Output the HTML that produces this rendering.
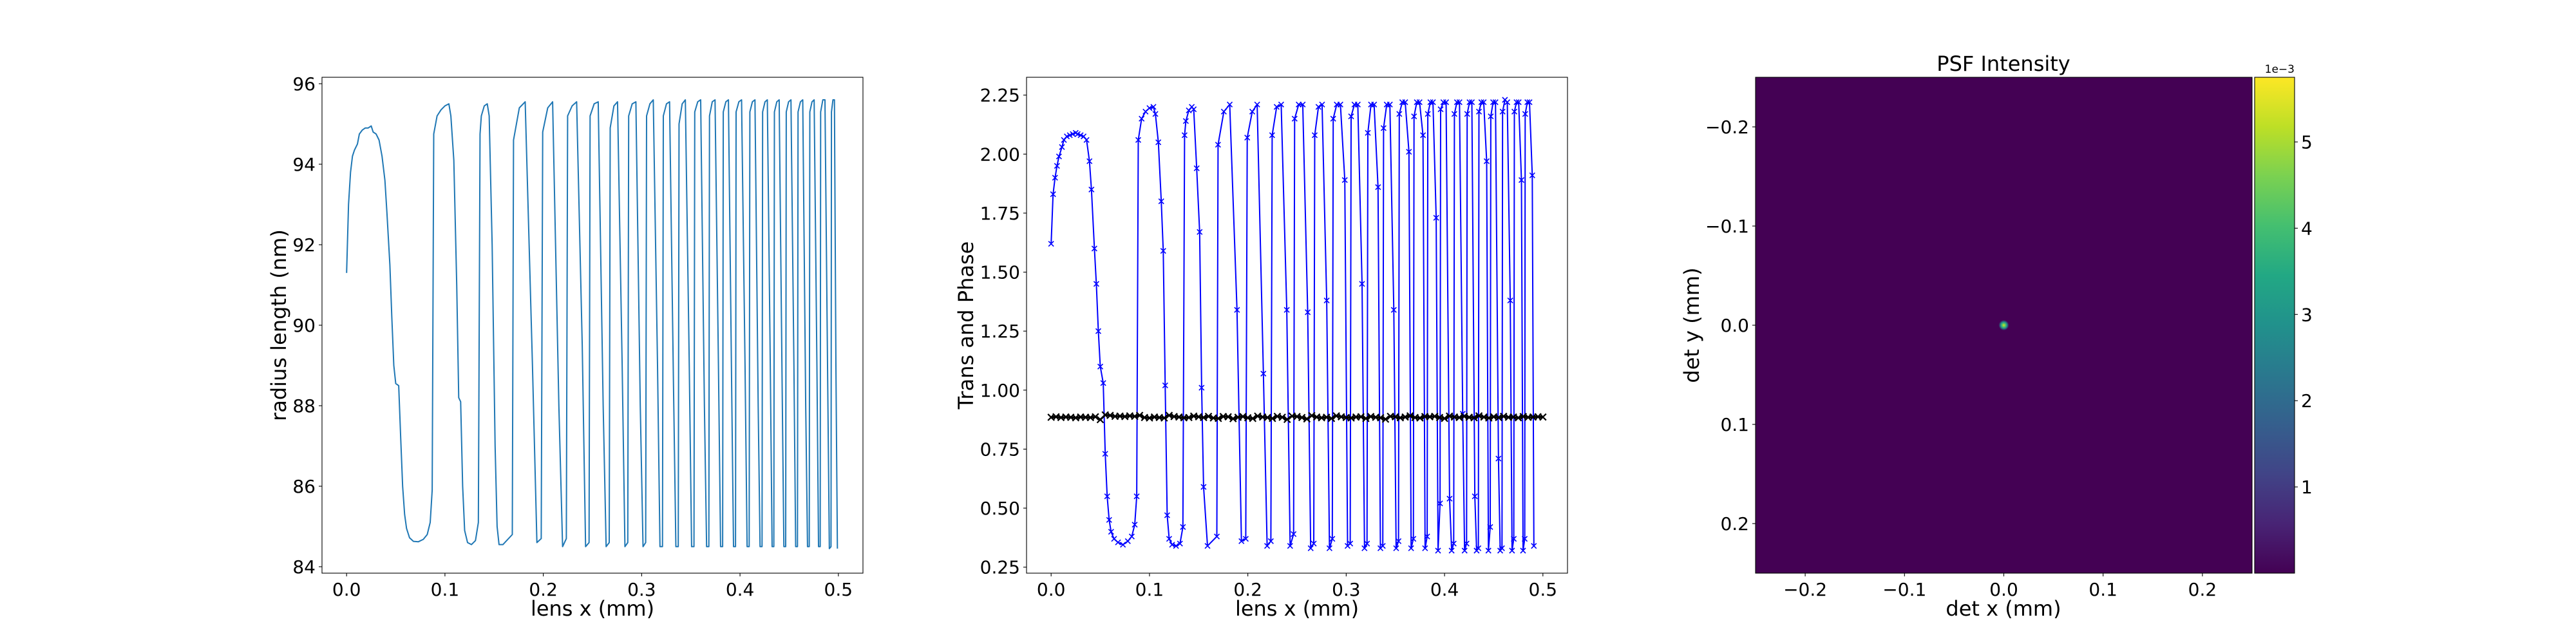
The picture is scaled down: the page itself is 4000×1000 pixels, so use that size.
<!DOCTYPE html>
<html><head><meta charset="utf-8">
<style>
html,body{margin:0;padding:0;background:#fff;}
svg{display:block;font-family:"DejaVu Sans","Liberation Sans",sans-serif;}
</style></head>
<body>
<svg id="fig" width="4000" height="1000" viewBox="0 0 4000 1000" xmlns="http://www.w3.org/2000/svg">
<defs>
<linearGradient id="viridis" x1="0" y1="1" x2="0" y2="0">
<stop offset="0" stop-color="#440154"/><stop offset="0.1" stop-color="#482475"/><stop offset="0.2" stop-color="#414487"/><stop offset="0.3" stop-color="#355f8d"/><stop offset="0.4" stop-color="#2a788e"/><stop offset="0.5" stop-color="#21918c"/><stop offset="0.6" stop-color="#22a884"/><stop offset="0.7" stop-color="#44bf70"/><stop offset="0.8" stop-color="#7ad151"/><stop offset="0.9" stop-color="#bddf26"/><stop offset="1" stop-color="#fde725"/>
</linearGradient>
<radialGradient id="spot">
<stop offset="0" stop-color="#d8e219"/><stop offset="0.3" stop-color="#5ec962"/><stop offset="0.6" stop-color="#21918c"/><stop offset="1" stop-color="#440154"/>
</radialGradient>
<clipPath id="clip1"><rect x="500" y="120" width="840" height="770"/></clipPath>
<clipPath id="clip2"><rect x="1594" y="120" width="840" height="770"/></clipPath>
</defs>
<g id="layer"></g>
</svg>
<script>
// ---- data ----
const lensX = [0,0.002,0.004,0.006,0.008,0.011,0.013,0.016,0.019,0.022,0.025,0.027,0.030,0.033,0.036,0.039,0.041,0.044,0.046,0.048,0.050,0.053,0.055,0.057,0.059,0.061,0.064,0.068,0.073,0.078,0.082,0.085,0.087,
0.0886,0.092,0.096,0.100,0.104,0.106,0.109,0.112,0.114,0.116,0.118,0.120,0.123,0.127,0.131,0.134,
0.1357,0.137,0.140,0.143,0.145,0.148,0.151,0.153,0.155,0.159,0.1685,
0.1697,0.1756,0.1816,0.1890,0.1935,0.1979,
0.1994,0.2045,0.2095,0.2158,0.2196,0.2234,
0.2247,0.2293,0.2339,0.2396,0.2430,0.2465,
0.2476,0.2517,0.2558,0.2609,0.2639,0.2670,
0.268,0.2718,0.2755,0.2802,0.2830,0.2859,
0.2868,0.2904,0.2941,0.2986,0.3014,0.3041,
0.305,0.3084,0.3118,0.3161,0.3186,0.3212,
0.322,0.3252,0.3284,0.3324,0.3348,0.3372,
0.338,0.3412,0.3444,0.3484,0.3508,0.3532,
0.354,0.357,0.360,0.3638,0.366,0.3683,
0.369,0.3718,0.3746,0.3781,0.3802,0.3823,
0.383,0.3856,0.3882,0.3915,0.3934,0.3954,
0.396,0.3988,0.4016,0.4051,0.4072,0.4093,
0.410,0.4126,0.4152,0.4185,0.4204,0.4224,
0.423,0.4254,0.4278,0.4308,0.4326,0.4344,
0.435,0.4374,0.4398,0.4428,0.4446,0.4464,
0.447,0.4494,0.4518,0.4548,0.4566,0.4584,
0.459,0.4614,0.4638,0.4668,0.4686,0.4704,
0.471,0.4732,0.4754,0.4782,0.4798,0.4815,
0.482,0.4842,0.4864,0.4892,0.4908,0.4925,
0.493,0.4945,0.496,0.4975,0.499];
const radiusNm = [91.3,93.0,93.8,94.2,94.35,94.5,94.75,94.85,94.9,94.9,94.95,94.8,94.75,94.6,94.2,93.6,92.8,91.5,90.2,89.0,88.55,88.5,87.2,86.0,85.3,84.95,84.72,84.63,84.62,84.68,84.8,85.1,85.9,
94.75,95.2,95.35,95.45,95.5,95.2,94.1,91.0,88.2,88.1,86.0,84.9,84.6,84.55,84.65,85.1,
94.75,95.2,95.45,95.5,95.2,92.0,87.0,85.0,84.55,84.55,84.8,
94.6,95.4,95.55,89.0,84.6,84.7,
94.8,95.4,95.55,88.0,84.5,84.7,
95.2,95.45,95.55,89.5,84.5,84.6,
95.2,95.5,95.55,88.0,84.5,84.6,
94.9,95.45,95.55,89.0,84.5,84.6,
95.2,95.5,95.55,88.0,84.5,84.6,
95.2,95.5,95.6,89.0,84.5,84.5,
95.2,95.5,95.55,88.5,84.5,84.5,
95.0,95.5,95.6,89.0,84.5,84.5,
95.3,95.55,95.6,88.0,84.5,84.5,
95.2,95.55,95.6,89.0,84.5,84.5,
95.3,95.55,95.6,88.5,84.5,84.5,
95.3,95.55,95.6,89.0,84.5,84.5,
95.3,95.55,95.6,88.0,84.5,84.5,
95.3,95.55,95.6,89.0,84.5,84.5,
95.3,95.55,95.6,88.5,84.5,84.5,
95.3,95.55,95.6,89.0,84.5,84.5,
95.3,95.55,95.6,88.0,84.5,84.5,
95.3,95.55,95.6,89.0,84.5,84.5,
95.3,95.6,95.6,88.5,84.45,84.5,
95.3,95.6,95.6,89.0,84.45,84.5,
95.3,95.6,95.5,90.0,84.5];
const transBlue = [1.62,1.83,1.90,1.95,1.99,2.03,2.06,2.075,2.08,2.085,2.09,2.085,2.08,2.075,2.06,1.97,1.85,1.6,1.45,1.25,1.1,1.03,0.73,0.55,0.45,0.40,0.37,0.355,0.345,0.36,0.38,0.43,0.55,
2.06,2.15,2.18,2.195,2.20,2.17,2.05,1.80,1.59,1.02,0.47,0.37,0.345,0.34,0.35,0.42,
2.08,2.14,2.185,2.20,2.19,1.94,1.67,1.01,0.59,0.34,0.38,
2.04,2.18,2.21,1.34,0.36,0.37,
2.07,2.18,2.21,1.07,0.34,0.36,
2.08,2.20,2.21,1.34,0.34,0.39,
2.15,2.21,2.21,1.33,0.33,0.35,
2.08,2.20,2.21,1.38,0.33,0.37,
2.15,2.21,2.21,1.89,0.34,0.35,
2.16,2.21,2.21,1.45,0.33,0.35,
2.09,2.21,2.21,1.86,0.33,0.34,
2.11,2.21,2.21,1.34,0.33,0.36,
2.17,2.22,2.22,2.01,0.33,0.37,
2.16,2.22,2.22,2.08,0.33,0.38,
2.17,2.22,2.22,1.73,0.32,0.52,
2.19,2.22,2.22,0.54,0.32,0.35,
2.17,2.22,2.22,0.90,0.32,0.35,
2.17,2.22,2.22,0.55,0.32,0.33,
2.18,2.22,2.22,1.97,0.32,0.42,
2.16,2.22,2.22,0.71,0.32,0.33,
2.18,2.23,2.22,1.38,0.32,0.37,
2.18,2.22,2.22,1.89,0.32,0.37,
2.17,2.22,2.22,1.91,0.34];
const phaseStep = 0.005;
const phaseBlack = [0.885,0.887,0.884,0.886,0.885,0.883,0.886,0.885,0.884,0.887,0.875,0.895,0.893,0.889,0.890,0.888,0.891,0.889,0.893,0.884,
0.882,0.886,0.884,0.882,0.893,0.888,0.886,0.883,0.884,0.890,0.887,0.884,0.889,0.882,0.880,0.888,0.887,0.879,0.885,0.888,
0.883,0.880,0.890,0.886,0.884,0.880,0.889,0.885,0.876,0.890,0.888,0.884,0.878,0.892,0.886,0.883,0.885,0.880,0.891,0.887,
0.884,0.882,0.886,0.887,0.880,0.888,0.885,0.883,0.877,0.889,0.887,0.883,0.886,0.891,0.884,0.882,0.888,0.887,0.889,0.884,
0.880,0.890,0.886,0.884,0.889,0.885,0.883,0.891,0.886,0.882,0.887,0.884,0.889,0.885,0.886,0.883,0.888,0.885,0.886,0.887,0.886];
const xTicks1 = [0.0,0.1,0.2,0.3,0.4,0.5];
const xTickLabels1 = ["0.0","0.1","0.2","0.3","0.4","0.5"];
const yTicks1 = [84,86,88,90,92,94,96];
const yTicks2 = [0.25,0.50,0.75,1.00,1.25,1.50,1.75,2.00,2.25];
const yTickLabels2 = ["0.25","0.50","0.75","1.00","1.25","1.50","1.75","2.00","2.25"];
const detTicks = [-0.2,-0.1,0.0,0.1,0.2];
const detTickLabels = ["\u22120.2","\u22120.1","0.0","0.1","0.2"];
const psfPeak = [0.0, 0.0];
const cbarTicks = [1,2,3,4,5];
const cbarMax = 5.75;

// ---- helpers ----
const NS = "http://www.w3.org/2000/svg";
const layer = document.getElementById("layer");
function mk(tag, attrs, parent) {
  const e = document.createElementNS(NS, tag);
  for (const k in attrs) e.setAttribute(k, attrs[k]);
  (parent || layer).appendChild(e);
  return e;
}
function txt(s, attrs, parent) { const t = mk("text", attrs, parent); t.textContent = s; return t; }
function lin(d0, d1, r0, r1) { return v => r0 + (v - d0) / (d1 - d0) * (r1 - r0); }

const TICK = 28, LAB = 32;
const Y0 = 120, Y1 = 890;

function axesFrame(x0, x1, name) {
  const r = mk("rect", {x: x0, y: Y0, width: x1 - x0, height: Y1 - Y0, fill: "none", stroke: "#000", "stroke-width": 1.1});
  
  
}
function xAxis(ticks, labels, sx, label, g, labelX) {
  ticks.forEach((t, i) => {
    const x = sx(t);
    mk("line", {x1: x, x2: x, y1: Y1, y2: Y1 + 5, stroke: "#000", "stroke-width": 1.1}, g);
    const tl = txt(labels[i], {x: x, y: 925, "font-size": TICK, "text-anchor": "middle"}, g);
    
    
  });
  const xl = txt(label, {x: labelX, y: 956, "font-size": LAB, "text-anchor": "middle"}, g);
  
  
}
function yAxis(ticks, labels, sy, x0, label, lx, g) {
  ticks.forEach((t, i) => {
    const y = sy(t);
    mk("line", {x1: x0 - 5, x2: x0, y1: y, y2: y, stroke: "#000", "stroke-width": 1.1}, g);
    const tl = txt(labels[i], {x: x0 - 10, y: y + 10, "font-size": TICK, "text-anchor": "end"}, g);
    
    
  });
  const yl = txt(label, {x: 0, y: 0, "font-size": LAB, "text-anchor": "middle", transform: `translate(${lx},505) rotate(-90)`}, g);
  
  
}

// ---- Plot 1: radius ----
{
  const g = mk("g", {});
  
  
  const sx = lin(-0.025, 0.525, 500, 1340);
  const sy = lin(83.84, 96.16, 890, 120);
  const pts = lensX.map((x, i) => sx(x).toFixed(1) + "," + sy(radiusNm[i]).toFixed(1)).join(" ");
  const pl = mk("polyline", {points: pts, fill: "none", stroke: "#1f77b4", "stroke-width": 2, "stroke-linejoin": "round", "clip-path": "url(#clip1)"}, g);
  
  
  axesFrame(500, 1340, 'radius-axes');
  xAxis(xTicks1, xTickLabels1, sx, "lens x (mm)", g, 920);
  yAxis(yTicks1, yTicks1.map(String), sy, 500, "radius length (nm)", 444, g);
}

// ---- Plot 2: trans and phase ----
{
  const g = mk("g", {});
  
  
  const sx = lin(-0.025, 0.525, 1594, 2434);
  const sy = lin(0.2245, 2.3255, 890, 120);
  const cg = mk("g", {"clip-path": "url(#clip2)"}, g);
  const pts = lensX.map((x, i) => sx(x).toFixed(1) + "," + sy(transBlue[i]).toFixed(1)).join(" ");
  const pl = mk("polyline", {points: pts, fill: "none", stroke: "#0000ff", "stroke-width": 2, "stroke-linejoin": "round"}, cg);
  
  
  let d = "";
  lensX.forEach((x, i) => { const X = sx(x), Y = sy(transBlue[i]); d += `M${X-4},${Y-4}L${X+4},${Y+4}M${X-4},${Y+4}L${X+4},${Y-4}`; });
  const mkB = mk("path", {d: d, stroke: "#0000ff", "stroke-width": 1.6, fill: "none"}, cg);
  
  
  const bp = phaseBlack.map((v, i) => sx(i * phaseStep).toFixed(1) + "," + sy(v).toFixed(1)).join(" ");
  const bl = mk("polyline", {points: bp, fill: "none", stroke: "#000", "stroke-width": 3}, cg);
  
  
  let d2 = "";
  phaseBlack.forEach((v, i) => { const X = sx(i * phaseStep), Y = sy(v); d2 += `M${X-5},${Y-5}L${X+5},${Y+5}M${X-5},${Y+5}L${X+5},${Y-5}`; });
  const mkK = mk("path", {d: d2, stroke: "#000", "stroke-width": 2.2, fill: "none"}, cg);
  
  
  axesFrame(1594, 2434, 'trans-phase-axes');
  xAxis(xTicks1, xTickLabels1, sx, "lens x (mm)", g, 2014);
  yAxis(yTicks2, yTickLabels2, sy, 1594, "Trans and Phase", 1511, g);
}

// ---- Plot 3: PSF ----
{
  const g = mk("g", {});
  
  
  const sx = lin(-0.25, 0.25, 2726, 3497);
  const sy = lin(-0.25, 0.25, 120, 890);
  const bg = mk("rect", {x: 2726, y: 120, width: 771, height: 770, fill: "#440154"}, g);
  
  
  const sp = mk("circle", {cx: sx(psfPeak[0]), cy: sy(psfPeak[1]), r: 8, fill: "url(#spot)"}, g);
  
  
  axesFrame(2726, 3497, 'psf-axes');
  xAxis(detTicks, detTickLabels, sx, "det x (mm)", g, 3111);
  yAxis(detTicks, detTickLabels, sy, 2726, "det y (mm)", 2638, g);
  const title = txt("PSF Intensity", {x: 3111, y: 110, "font-size": LAB, "text-anchor": "middle"}, g);
  
  
  const cb = mk("rect", {x: 3501, y: 120, width: 62, height: 770, fill: "url(#viridis)", stroke: "#000", "stroke-width": 1.1}, g);
  
  
  const sc = lin(0, cbarMax, 890, 120);
  cbarTicks.forEach(t => {
    const y = sc(t);
    mk("line", {x1: 3563, x2: 3568, y1: y, y2: y, stroke: "#000", "stroke-width": 1.1}, g);
    const tl = txt(String(t), {x: 3573, y: y + 10, "font-size": TICK}, g);
    
    
  });
  const off = txt("1e\u22123", {x: 3563, y: 113, "font-size": 17, "text-anchor": "end"}, g);
  
  
}
</script>
</body></html>
